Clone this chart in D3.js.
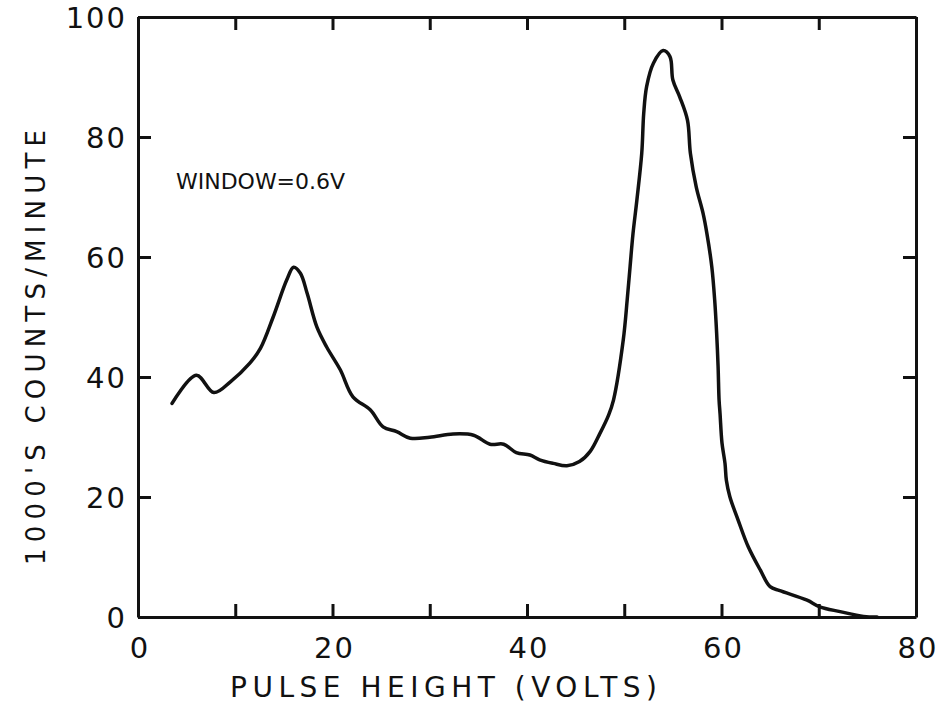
<!DOCTYPE html>
<html><head><meta charset="utf-8">
<script src="https://cdn.jsdelivr.net/npm/d3@7"></script>
<style>
html,body{margin:0;padding:0;background:#fff;}
text{font-family:"DejaVu Sans",sans-serif;fill:#111;}
</style></head>
<body><svg id="c" width="948" height="707"></svg>
<script>
const pulseVolts = [3.5, 6.0, 7.8, 9.5, 11.5, 12.6, 13.9, 15.3, 16.0, 16.7, 17.4, 18.4, 19.4, 20.8, 22.1, 23.9, 25.2, 26.6, 28.0, 30.0, 32.4, 34.5, 36.2, 37.6, 38.9, 40.3, 41.3, 42.7, 44.1, 45.4, 46.5, 47.5, 48.4, 48.9, 49.9, 50.3, 50.6, 50.9, 51.3, 51.8, 52.0, 52.3, 53.0, 54.0, 54.7, 55.0, 55.7, 56.5, 56.8, 57.4, 58.1, 58.5, 59.0, 59.3, 59.5, 59.65, 59.75, 59.85, 60.05, 60.36, 60.5, 60.86, 61.7, 62.75, 64.0, 65.0, 66.0, 68.8, 70.1, 72.2, 74.6, 76.0];
const countsK = [35.6, 40.3, 37.4, 39.2, 42.3, 44.8, 50.0, 56.2, 58.3, 57.3, 53.9, 48.3, 45.0, 41.2, 36.7, 34.5, 31.7, 30.9, 29.8, 29.95, 30.5, 30.3, 28.8, 28.8, 27.4, 27.0, 26.2, 25.6, 25.2, 25.9, 27.6, 30.6, 33.7, 36.2, 46.2, 52.8, 58.4, 63.9, 69.5, 77.3, 83.9, 88.4, 92.3, 94.4, 93.4, 89.5, 86.7, 82.8, 77.3, 71.7, 67.3, 63.9, 58.4, 52.8, 47.3, 41.7, 36.2, 33.9, 29.0, 25.6, 22.8, 20.05, 16.2, 11.7, 7.8, 5.05, 4.4, 2.8, 1.7, 0.9, 0.1, 0];
const xTicks = [0,10,20,30,40,50,60,70,80];
const xTickLabels = [0,20,40,60,80];
const yTicks = [0,20,40,60,80,100];
const xTitle = "PULSE HEIGHT (VOLTS)";
const yTitle = "1000'S COUNTS/MINUTE";
const note = "WINDOW=0.6V";

const svg = d3.select("#c");
const L=138, R=916, T=17, B=617;
const x = d3.scaleLinear().domain([0,80]).range([L,R]);
const y = d3.scaleLinear().domain([0,100]).range([B,T]);
const tk = 13;

function styleAxis(g){
  g.select(".domain").attr("stroke","#111").attr("stroke-width",3);
  g.selectAll(".tick line").attr("stroke","#111").attr("stroke-width",3);
  g.selectAll(".tick text").remove();
}
svg.append("g").attr("transform",`translate(0,${B})`)
  .call(d3.axisBottom(x).tickValues(xTicks).tickSizeInner(-tk).tickSizeOuter(0)).call(styleAxis);
svg.append("g").attr("transform",`translate(0,${T})`)
  .call(d3.axisTop(x).tickValues(xTicks).tickSizeInner(-tk).tickSizeOuter(0)).call(styleAxis);
svg.append("g").attr("transform",`translate(${L},0)`)
  .call(d3.axisLeft(y).tickValues(yTicks).tickSizeInner(-tk).tickSizeOuter(0)).call(styleAxis);
svg.append("g").attr("transform",`translate(${R},0)`)
  .call(d3.axisRight(y).tickValues(yTicks).tickSizeInner(-tk).tickSizeOuter(0)).call(styleAxis);

// tick labels
svg.append("g").selectAll("text").data(xTickLabels).join("text")
  .attr("x",d=>x(d)+2).attr("y",658).attr("text-anchor","middle")
  .attr("font-size",29).attr("letter-spacing",2).text(d=>d);
svg.append("g").selectAll("text").data(yTicks).join("text")
  .attr("x",127).attr("y",d=>y(d)+11).attr("text-anchor","end")
  .attr("font-size",29).attr("letter-spacing",2).text(d=>d);

// curve
const pts = pulseVolts.map((v,i)=>[v,countsK[i]]);
svg.append("path").datum(pts)
  .attr("fill","none").attr("stroke","#111").attr("stroke-width",3.5)
  .attr("stroke-linejoin","round").attr("stroke-linecap","round")
  .attr("d", d3.line().x(d=>x(d[0])).y(d=>y(d[1])).curve(d3.curveCatmullRom.alpha(0.5)));

// titles
svg.append("text").attr("x",230).attr("y",697).attr("font-size",28)
  .attr("textLength",427).attr("lengthAdjust","spacing").text(xTitle);
svg.append("text").attr("transform","translate(45,565) rotate(-90)")
  .attr("font-size",26).attr("textLength",435).attr("lengthAdjust","spacing").text(yTitle);
svg.append("text").attr("x",176).attr("y",189).attr("font-size",22)
  .attr("textLength",169).attr("lengthAdjust","spacing").text(note);
</script></body></html>
